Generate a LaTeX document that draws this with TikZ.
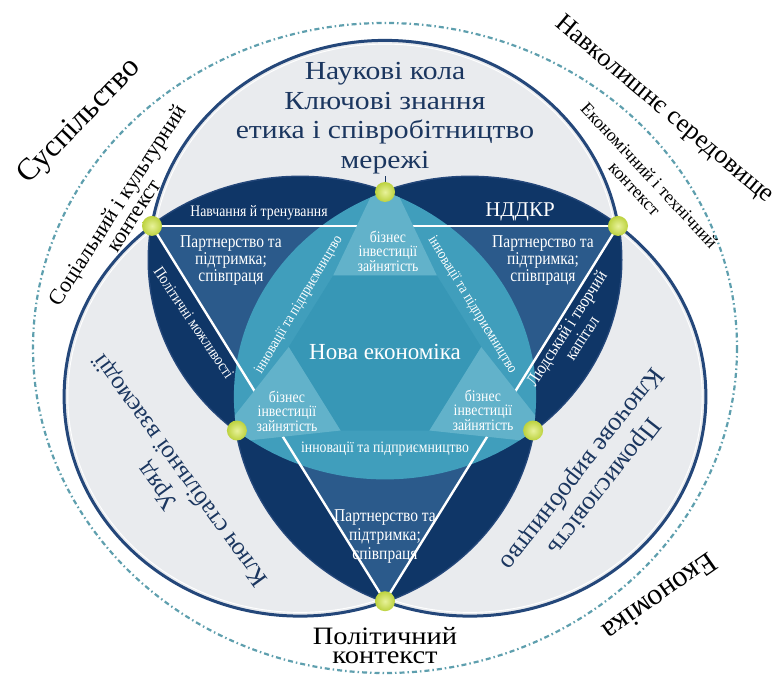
\documentclass[tikz,border=0pt]{standalone}
\usepackage{fontspec}
\setmainfont{Liberation Serif}
\newfontfamily\condfont[FakeStretch=0.86]{Liberation Serif}
\newfontfamily\widefont[FakeStretch=1.14]{Liberation Serif}
\usetikzlibrary{calc}
\definecolor{ringteal}{HTML}{5E9FAE}
\definecolor{grayfill}{HTML}{E9EBEE}
\definecolor{rimnavy}{HTML}{24477A}
\definecolor{lensnavy}{HTML}{0F3667}
\definecolor{trinavy}{HTML}{2B5A8B}
\definecolor{segcyan}{HTML}{409EBC}
\definecolor{hexcyan}{HTML}{3797B6}
\definecolor{cornercyan}{HTML}{62B2CA}
\definecolor{textnavy}{HTML}{1B365F}
\definecolor{dotgreen}{HTML}{BCD23E}
\definecolor{dotlight}{HTML}{E8F29A}
\begin{document}
\begin{tikzpicture}[x=1pt,y=-1pt,
  outerlbl/.style={text=black, align=center, inner sep=0pt},
  navylbl/.style={text=textnavy, align=center, inner sep=0pt},
  whitelbl/.style={text=white, align=center, inner sep=0pt},
  greendot/.style={inner color=dotlight, outer color=dotgreen},
  rim/.style={draw=rimnavy, line width=3},
  innerrim/.style={draw=white, line width=0.9},
  whiteline/.style={draw=white, line width=2.4}
]
\useasboundingbox[fill=white] (0,0) rectangle (779,679);

% key points
\coordinate (TL) at (152,225.9);
\coordinate (TR) at (618,225.9);
\coordinate (B)  at (385,601.2);
\coordinate (T)  at (385,192);
\coordinate (L)  at (236.9,430.5);
\coordinate (R)  at (533.1,430.5);
\coordinate (Ttick) at (385,176);

% outer dotted ring
\draw[ringteal, line width=2.2, dash pattern=on 5pt off 3pt on 1.5pt off 3pt]
  (385,348) ellipse [x radius=352, y radius=325];

% three circles
\fill[grayfill] (385,259.9) ellipse [x radius=236, y radius=219.5];
\fill[grayfill] (300.1,396.6) ellipse [x radius=236, y radius=219.5];
\fill[grayfill] (469.9,396.6) ellipse [x radius=236, y radius=219.5];
\draw[innerrim] (385,259.9) ellipse [x radius=232.3, y radius=215.8];
\draw[innerrim] (300.1,396.6) ellipse [x radius=232.3, y radius=215.8];
\draw[innerrim] (469.9,396.6) ellipse [x radius=232.3, y radius=215.8];
\draw[rim] (385,259.9) ellipse [x radius=236, y radius=219.5];
\draw[rim] (300.1,396.6) ellipse [x radius=236, y radius=219.5];
\draw[rim] (469.9,396.6) ellipse [x radius=236, y radius=219.5];

% lenses
\begin{scope}
  \clip (385,259.9) ellipse [x radius=236, y radius=219.5];
  \fill[lensnavy] (300.1,396.6) ellipse [x radius=236, y radius=219.5];
  \fill[lensnavy] (469.9,396.6) ellipse [x radius=236, y radius=219.5];
\end{scope}
\begin{scope}
  \clip (300.1,396.6) ellipse [x radius=236, y radius=219.5];
  \fill[lensnavy] (469.9,396.6) ellipse [x radius=236, y radius=219.5];
\end{scope}

% big triangle
\fill[trinavy] (TL) -- (TR) -- (B) -- cycle;

% triple region
\begin{scope}
  \clip (385,259.9) ellipse [x radius=236, y radius=219.5];
  \clip (300.1,396.6) ellipse [x radius=236, y radius=219.5];
  \fill[segcyan] (469.9,396.6) ellipse [x radius=236, y radius=219.5];
\end{scope}
\draw[whiteline] (TL) -- (TR);
\draw[whiteline] (TL) -- (B);
\draw[whiteline] (TR) -- (B);

% inner triangle: hexagon and corners
\fill[hexcyan] ($(T)!0.35!(L)$) -- ($(L)!0.35!(T)$) -- ($(L)!0.35!(R)$)
  -- ($(R)!0.35!(L)$) -- ($(R)!0.35!(T)$) -- ($(T)!0.35!(R)$) -- cycle;
\begin{scope}
  \clip (385,259.9) ellipse [x radius=236, y radius=219.5];
  \clip (300.1,396.6) ellipse [x radius=236, y radius=219.5];
  \clip (469.9,396.6) ellipse [x radius=236, y radius=219.5];
  \fill[cornercyan] (373,192) -- (397,192) -- ($(T)!0.35!(R)$) -- ($(T)!0.35!(L)$) -- cycle;
  \fill[cornercyan] (231.3,419.9) -- (242.5,441.1) -- ($(L)!0.35!(R)$) -- ($(L)!0.35!(T)$) -- cycle;
  \fill[cornercyan] (538.7,419.9) -- (527.5,441.1) -- ($(R)!0.35!(L)$) -- ($(R)!0.35!(T)$) -- cycle;
\end{scope}

% tick and dots
\draw[textnavy, line width=1] (T) -- (Ttick);
\foreach \p in {T,L,R,TL,TR,B}{
  \shade[greendot] (\p) circle [radius=10];
}

% outer labels
\node[navylbl, font=\widefont\fontsize{26}{29.5}\selectfont] (sci) at (385,118)
  {Наукові кола\\Ключові знання\\етика і співробітництво\\мережі};
\node[outerlbl, font=\fontsize{31}{31}\selectfont, rotate=46] (soc) at (80,122) {Суспільство};
\node[outerlbl, font=\fontsize{22}{19}\selectfont, rotate=57] (socctx) at (125,210)
  {Соціальний і культурний\\контекст};
\node[outerlbl, font=\fontsize{26}{26}\selectfont, rotate=-40] (env) at (664,110) {Навколишнє середовище};
\node[outerlbl, font=\fontsize{18}{20}\selectfont, rotate=-47] (ecoctx) at (642,182)
  {Економічний і технічний\\контекст};
\node[outerlbl, font=\fontsize{30}{30}\selectfont, rotate=215] (econ) at (660,597) {Економіка};
\node[outerlbl, font=\widefont\fontsize{25}{19}\selectfont] (polctx) at (385,646)
  {Політичний\\контекст};
\node[navylbl, font=\fontsize{25}{28}\selectfont, rotate=126] (gov) at (170,478)
  {Уряд\\Ключ стабільної взаємодії};
\node[navylbl, font=\fontsize{26}{28}\selectfont, rotate=232] (ind) at (592,477)
  {Промисловість\\Ключове виробництво};

% inner labels
\node[whitelbl, font=\condfont\fontsize{16}{16}\selectfont] (train) at (259,213) {Навчання й тренування};
\node[whitelbl, font=\fontsize{21}{21}\selectfont] (rnd) at (520,212) {НДДКР};
\node[whitelbl, font=\condfont\fontsize{18}{17}\selectfont] (partL) at (231,261)
  {Партнерство та\\підтримка;\\співпраця};
\node[whitelbl, font=\condfont\fontsize{18}{17}\selectfont] (partR) at (543,261)
  {Партнерство та\\підтримка;\\співпраця};
\node[whitelbl, font=\condfont\fontsize{18}{19}\selectfont] (partB) at (385,537)
  {Партнерство та\\підтримка;\\співпраця};
\node[whitelbl, font=\condfont\fontsize{16}{16}\selectfont, rotate=-56] (polopp) at (194,323)
  {Політичні можливості};
\node[whitelbl, font=\condfont\fontsize{18}{18}\selectfont, rotate=57] (human) at (574,333)
  {Людський і творчий\\капітал};
\node[whitelbl, font=\condfont\fontsize{15}{15}\selectfont, rotate=59] (innL) at (299,305)
  {інновації та підприємництво};
\node[whitelbl, font=\condfont\fontsize{15}{15}\selectfont, rotate=-58.5] (innR) at (472,305)
  {інновації та підприємництво};
\node[whitelbl, font=\condfont\fontsize{16}{16}\selectfont] (innB) at (385,449)
  {інновації та підприємництво};
\node[whitelbl, font=\condfont\fontsize{16}{14}\selectfont] (bizT) at (388,251)
  {бізнес\\інвестиції\\зайнятість};
\node[whitelbl, font=\condfont\fontsize{16}{14}\selectfont] (bizL) at (287,411)
  {бізнес\\інвестиції\\зайнятість};
\node[whitelbl, font=\condfont\fontsize{16}{14}\selectfont] (bizR) at (483,410)
  {бізнес\\інвестиції\\зайнятість};
\node[whitelbl, font=\fontsize{23}{23}\selectfont] (newec) at (385,352) {Нова економіка};
\end{tikzpicture}
\end{document}
